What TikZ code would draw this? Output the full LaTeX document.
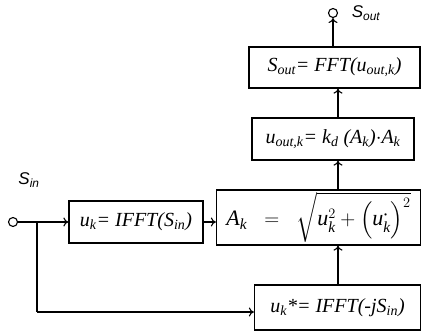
\documentclass[tikz,border=0pt]{standalone}
\usepackage{amsmath}
\usepackage{fontspec}
\setmainfont{Liberation Serif}
\newfontfamily\lsans{Liberation Sans}
\usetikzlibrary{arrows.meta}
\newcommand\sbs[1]{\textsubscript{#1}}
\begin{document}
\begin{tikzpicture}[x=1pt,y=-1pt,
  blk/.style={draw,line width=1.3pt,inner sep=0pt,font=\fontsize{20}{22}\selectfont\itshape},
  wire/.style={line width=1.1pt},
  arr/.style={wire,-{To[length=5pt,width=9pt,line width=1.1pt]}},
  term/.style={circle,draw,line width=1.1pt,minimum size=9pt,inner sep=0pt},
  lbl/.style={font=\fontsize{17}{19}\lsans\itshape}]
\useasboundingbox (0,0) rectangle (423,334);
\node[blk,minimum width=171pt,minimum height=41pt] (fft) at (334.5,67.5) {S\sbs{out}= FFT(u\sbs{out,k})};
\node[blk,minimum width=162pt,minimum height=42pt] (uout) at (333,139) {u\sbs{out,k}= k\sbs{d} (A\sbs{k})$\cdot$A\sbs{k}};
\node[blk,minimum width=204pt,minimum height=55pt,font=\fontsize{22}{24}\selectfont\itshape] (amp) at (318.5,217.5) {$\textit{A}_{\textit{k}} \;\;=\;\; \sqrt{\textit{u}_{\textit{k}}^{2} + \Bigl(\textit{u}_{\textit{k}}^{\boldsymbol{\cdot}}\Bigr)^{2}}$};
\node[blk,minimum width=134pt,minimum height=42pt] (uk) at (136,222) {u\sbs{k}= IFFT(S\sbs{in})};
\node[blk,minimum width=166pt,minimum height=45pt] (uks) at (337.5,307.5) {u\sbs{k}*= IFFT(-jS\sbs{in})};
\node[term] (in) at (13,222) {};
\node[term] (out) at (333,13) {};
\node[lbl] (sin) at (29,180) {S\sbs{in}};
\node[lbl] (sout) at (366,13) {S\sbs{out}};
\coordinate (j) at (37,222);
\coordinate (c) at (37,312);
\draw[arr] (in.east) -- (uk.west);
\draw[wire] (j) -- (c);
\draw[arr] (c) -- (c -| uks.west);
\draw[arr] (uk.east) -- (uk.east -| amp.west);
\draw[arr] (uks.north -| 338,0) -- (amp.south -| 338,0);
\draw[arr] (amp.north -| 338,0) -- (uout.south -| 338,0);
\draw[arr] (uout.north -| 338,0) -- (fft.south -| 338,0);
\draw[arr] (fft.north -| out) -- (out.south);
\end{tikzpicture}
\end{document}
